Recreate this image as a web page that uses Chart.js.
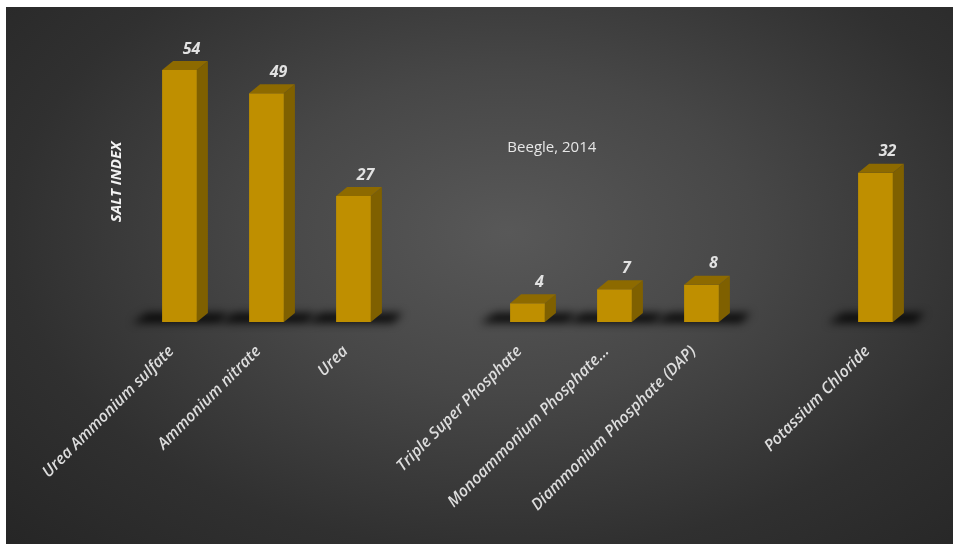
<!DOCTYPE html>
<html>
<head>
<meta charset="utf-8">
<script src="https://cdn.jsdelivr.net/npm/chart.js@4"></script>
<style>
  html, body { margin: 0; padding: 0; background: #fff; }
  #marco {
    position: absolute; left: 6px; top: 7px; width: 947px; height: 537px;
    background: radial-gradient(ellipse 75% 85% at 53% 42%, #585858 0%, #474747 35%, #303030 70%, #252525 100%);
  }
</style>
</head>
<body>
<div id="marco"><canvas id="grafico" width="947" height="537"></canvas></div>
<script>
// Datos del gráfico
const categorias = ['Urea Ammonium sulfate', 'Ammonium nitrate', 'Urea', '', 'Triple Super Phosphate',
  'Monoammonium Phosphate...', 'Diammonium Phosphate (DAP)', '', 'Potassium Chloride'];
const indiceSalino = [54, 49, 27, null, 4, 7, 8, null, 32];
const tituloEjeY = 'SALT INDEX';
const nota = 'Beegle, 2014';
const notaCategoria = 4.28;  // posición de la nota en unidades del eje x
const notaValor = 37.3;      // y en unidades del eje y

// Colores de las caras de la barra
const colorFrente = '#BF8F00';
const colorLado = '#7F6000';
const colorTecho = '#8D6A00';
const fondo = 11; // profundidad en px
const fondoY = 9;

// Plugin para sombra, caras 3D y etiquetas
const barras3D = {
  id: 'barras3D',
  beforeDatasetsDraw(chart) {
    const ctx = chart.ctx;
    const meta = chart.getDatasetMeta(0);
    meta.data.forEach((bar, i) => {
      if (indiceSalino[i] == null) return;
      const { x, base, width } = bar.getProps(['x', 'base', 'width'], true);
      const izq = x - width / 2;
      const der = x + width / 2;
      ctx.save();
      ctx.filter = 'blur(4px)';
      ctx.fillStyle = 'rgba(0,0,0,0.85)';
      ctx.beginPath();
      ctx.moveTo(izq - 30, base + 1);
      ctx.lineTo(der + 22, base + 1);
      ctx.lineTo(der + 32, base - 9);
      ctx.lineTo(izq - 15, base - 9);
      ctx.closePath();
      ctx.fill();
      ctx.restore();
    });
  },
  afterDatasetsDraw(chart) {
    const ctx = chart.ctx;
    const meta = chart.getDatasetMeta(0);
    meta.data.forEach((bar, i) => {
      if (indiceSalino[i] == null) return;
      const { x, y, base, width } = bar.getProps(['x', 'y', 'base', 'width'], true);
      const izq = x - width / 2;
      const der = x + width / 2;
      // lado
      ctx.fillStyle = colorLado;
      ctx.beginPath();
      ctx.moveTo(der, y);
      ctx.lineTo(der + fondo, y - fondoY);
      ctx.lineTo(der + fondo, base - fondoY);
      ctx.lineTo(der, base);
      ctx.closePath();
      ctx.fill();
      // techo
      ctx.fillStyle = colorTecho;
      ctx.beginPath();
      ctx.moveTo(izq, y);
      ctx.lineTo(izq + fondo, y - fondoY);
      ctx.lineTo(der + fondo, y - fondoY);
      ctx.lineTo(der, y);
      ctx.closePath();
      ctx.fill();
      // etiqueta de valor
      ctx.save();
      ctx.font = 'italic bold 16px "Open Sans"';
      ctx.fillStyle = '#E2E2E2';
      ctx.textAlign = 'center';
      ctx.textBaseline = 'middle';
      ctx.fillText(String(indiceSalino[i]), x + 12, y - fondoY - 12);
      ctx.restore();
    });
    // nota de la fuente
    const sx = chart.scales.x, sy = chart.scales.y;
    ctx.save();
    ctx.font = '15px "Open Sans"';
    ctx.fillStyle = '#E6E6E6';
    ctx.textAlign = 'center';
    ctx.textBaseline = 'middle';
    ctx.fillText(nota, sx.getPixelForValue(notaCategoria), sy.getPixelForValue(notaValor));
    ctx.restore();
  }
};

new Chart(document.getElementById('grafico'), {
  type: 'bar',
  data: {
    labels: categorias,
    datasets: [{
      data: indiceSalino,
      backgroundColor: colorFrente,
      borderWidth: 0,
      barPercentage: 0.4,
      categoryPercentage: 1
    }]
  },
  options: {
    responsive: false,
    animation: false,
    layout: { padding: { left: 102, right: 34, top: 35, bottom: 0 } },
    plugins: {
      legend: { display: false },
      tooltip: { enabled: false }
    },
    scales: {
      x: {
        grid: { display: false, drawTicks: false },
        border: { display: false },
        ticks: {
          color: '#DCDCDC',
          font: { family: '"Open Sans"', size: 16, style: 'italic', weight: '600' },
          minRotation: 45,
          maxRotation: 45,
          autoSkip: false,
          padding: 20,
          labelOffset: -8
        },
        afterFit: s => { s.height = 222; }
      },
      y: {
        min: 0,
        max: 60,
        grid: { display: false, drawTicks: false },
        border: { display: false },
        ticks: { display: false },
        title: {
          display: true,
          text: tituloEjeY,
          color: '#F2F2F2',
          font: { family: '"Open Sans"', size: 15, style: 'italic', weight: 'bold' },
          padding: { top: 0, bottom: 10 }
        },
        afterFit: s => { s.width = 28; }
      }
    }
  },
  plugins: [barras3D]
});
</script>
</body>
</html>
